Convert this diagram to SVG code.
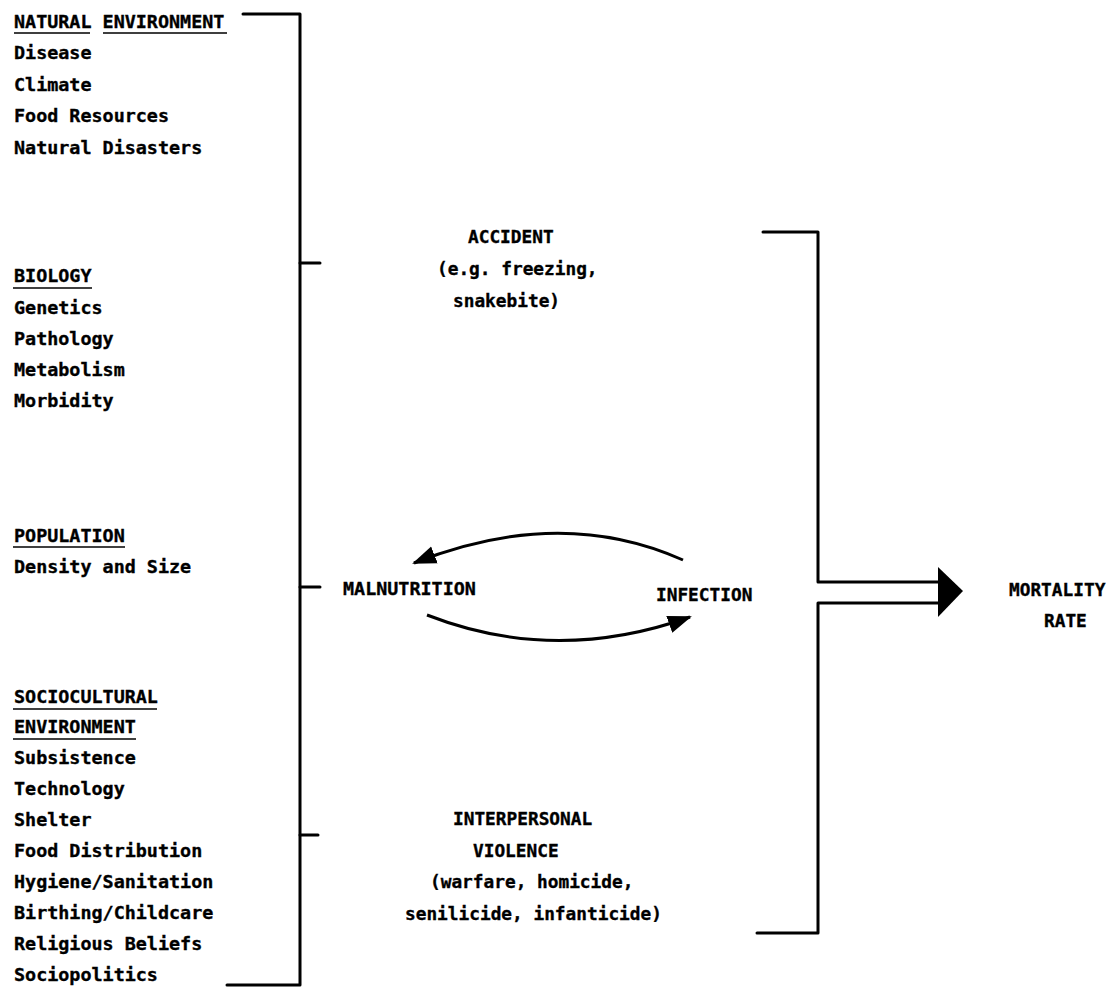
<svg xmlns="http://www.w3.org/2000/svg" width="1114" height="996" viewBox="0 0 1114 996">
<style>
text{font-family:"DejaVu Sans Mono","Liberation Mono",monospace;font-weight:bold;font-size:18.4px;fill:#000;stroke:#000;stroke-width:0.35}
.c{font-size:17.8px}
.ln{fill:none;stroke:#000;stroke-width:3;stroke-linecap:round;stroke-linejoin:round}
.ul{fill:none;stroke:#000;stroke-width:1.6}
.arc{fill:none;stroke:#000;stroke-width:3}
</style>
<defs>
<marker id="ah" markerUnits="userSpaceOnUse" markerWidth="26" markerHeight="20" viewBox="0 0 26 20" refX="22" refY="10" orient="auto">
<path d="M0,1 L24,10 L0,19 Z" fill="#000"/>
</marker>
</defs>
<rect width="1114" height="996" fill="#fff"/>

<g id="natural-environment">
<text x="14" y="28">NATURAL ENVIRONMENT</text>
<path class="ul" d="M14,33 H90 M103,33 H227"/>
<text x="14" y="59">Disease</text>
<text x="14" y="90.5">Climate</text>
<text x="14" y="122">Food Resources</text>
<text x="14" y="153.5">Natural Disasters</text>
</g>

<g id="biology">
<text x="14" y="282">BIOLOGY</text>
<path class="ul" d="M13,288 H92"/>
<text x="14" y="314">Genetics</text>
<text x="14" y="345">Pathology</text>
<text x="14" y="376">Metabolism</text>
<text x="14" y="407">Morbidity</text>
</g>

<g id="population">
<text x="14" y="542">POPULATION</text>
<path class="ul" d="M13,547 H125"/>
<text x="14" y="573">Density and Size</text>
</g>

<g id="sociocultural-environment">
<text x="14" y="703">SOCIOCULTURAL</text>
<path class="ul" d="M13,709 H157"/>
<text x="14" y="733">ENVIRONMENT</text>
<path class="ul" d="M13,739 H136"/>
<text x="14" y="764">Subsistence</text>
<text x="14" y="795">Technology</text>
<text x="14" y="826">Shelter</text>
<text x="14" y="857">Food Distribution</text>
<text x="14" y="888">Hygiene/Sanitation</text>
<text x="14" y="919">Birthing/Childcare</text>
<text x="14" y="950">Religious Beliefs</text>
<text x="14" y="981">Sociopolitics</text>
</g>

<g id="accident">
<text class="c" x="468" y="243">ACCIDENT</text>
<text class="c" x="437" y="275">(e.g. freezing,</text>
<text class="c" x="453" y="307">snakebite)</text>
</g>

<g id="malnutrition">
<text x="343" y="595">MALNUTRITION</text>
</g>

<g id="infection">
<text class="c" x="656" y="601">INFECTION</text>
</g>

<g id="interpersonal-violence">
<text class="c" x="453" y="825">INTERPERSONAL</text>
<text class="c" x="473" y="857">VIOLENCE</text>
<text class="c" x="430" y="888">(warfare, homicide,</text>
<text class="c" x="405" y="920">senilicide, infanticide)</text>
</g>

<g id="mortality-rate">
<text class="c" x="1009" y="596">MORTALITY</text>
<text class="c" x="1044" y="627">RATE</text>
</g>

<g id="connectors">
<path class="ln" d="M243,14 H300 V985 H227"/>
<path class="ln" d="M300,263 H320 M300,587 H320 M300,835 H318"/>
<path class="ln" d="M763,232 H818 V582 H940"/>
<path class="ln" d="M940,603 H818 V933 H757"/>
<polygon points="938,567 963,591 938,617" fill="#000"/>
<path class="arc" d="M683,560 Q560,505 414,563" marker-end="url(#ah)"/>
<path class="arc" d="M427,615 Q555,665 690,617" marker-end="url(#ah)"/>
</g>
</svg>
